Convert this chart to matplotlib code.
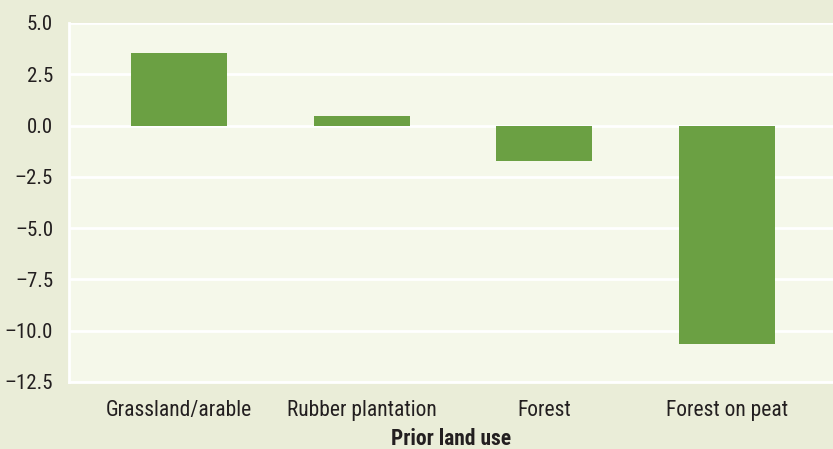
import matplotlib
matplotlib.use("Agg")
import matplotlib.pyplot as plt
from matplotlib import font_manager

# data
categories = ["Grassland/arable", "Rubber plantation", "Forest", "Forest on peat"]
values = [3.55, 0.45, -1.75, -10.65]
yticks = [5.0, 2.5, 0.0, -2.5, -5.0, -7.5, -10.0, -12.5]

names = {f.name for f in font_manager.fontManager.ttflist}
fam = [n for n in ["Roboto Condensed", "Liberation Sans Narrow", "DejaVu Sans"] if n in names]
plt.rcParams["font.family"] = fam + ["DejaVu Sans"]

outer = "#eaedd8"
inner = "#f5f8ea"
green = "#6ba043"
txt = "#231f20"

fig = plt.figure(figsize=(8.33, 4.49), dpi=100, facecolor=outer)
ax = fig.add_axes([69/833, 1 - 382/449, 1 - 69/833, (382 - 23)/449])
ax.set_facecolor(inner)

x = list(range(len(categories)))
ax.bar(x, values, width=0.525, color=green, zorder=3)

ax.set_ylim(-12.5, 5.0)
ax.set_xlim(-0.602, 3.58)
ax.set_yticks(yticks)
ax.set_yticklabels([f"{v:.1f}".replace("-", "\u2013") for v in yticks])
ax.set_xticks(x)
ax.set_xticklabels(categories)
ax.tick_params(length=0, labelsize=15.5, colors=txt)
ax.tick_params(axis="y", labelsize=15, pad=11.5)
ax.tick_params(axis="x", pad=13)
ax.grid(axis="y", color="white", linewidth=2, zorder=1)
for s in ax.spines.values():
    s.set_visible(False)
for side in ["left", "bottom"]:
    ax.spines[side].set_visible(True)
    ax.spines[side].set_color("white")
    ax.spines[side].set_linewidth(2)

ax.set_xlabel("Prior land use", fontsize=15.5, fontweight="bold", color=txt, labelpad=5)

fig.savefig("out.png", dpi=100, facecolor=outer)
